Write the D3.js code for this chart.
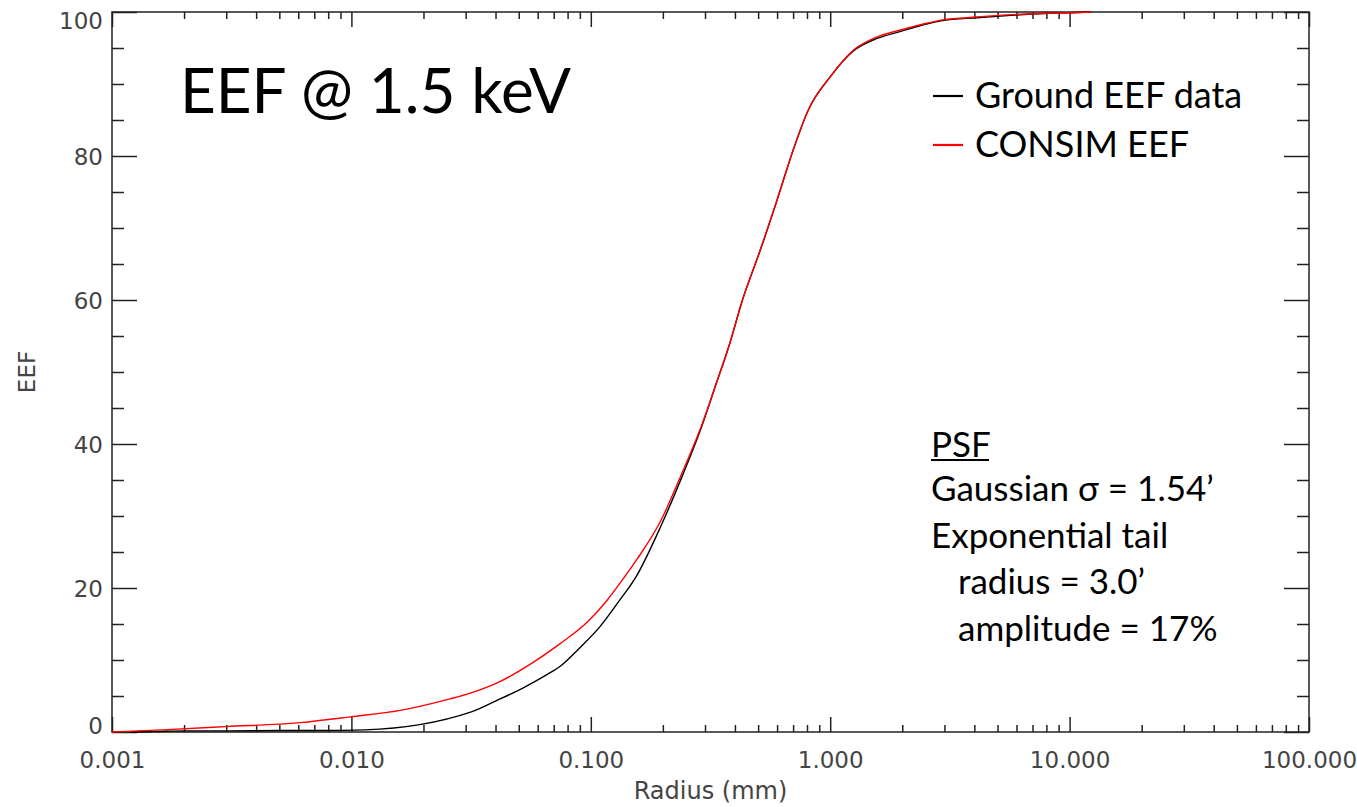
<!DOCTYPE html>
<html>
<head>
<meta charset="utf-8">
<script src="https://cdn.jsdelivr.net/npm/d3@7"></script>
<style>
  body { margin: 0; background: #fff; }
  svg { display: block; }
</style>
</head>
<body>
<div id="chart"></div>
<script>
// ground measurement (black)
const groundRadius = [0.0012, 0.0015, 0.002, 0.003, 0.005, 0.0075, 0.0114, 0.0317, 0.04, 0.052, 0.065, 0.075, 0.09, 0.109, 0.13, 0.156, 0.195, 0.24, 0.286, 0.335, 0.38, 0.43, 0.51, 0.6, 0.7, 0.81, 1.0, 1.25, 1.56, 1.97, 2.5, 2.95, 4.1, 5.5, 7.7, 10, 12.3];
const groundEEF = [0, 0.05, 0.15, 0.15, 0.2, 0.2, 0.3, 2.8, 4.3, 6.1, 7.9, 9.2, 11.7, 14.6, 18.0, 21.8, 28.4, 35.4, 41.8, 48.5, 53.9, 60, 66.9, 73.9, 80.8, 86.4, 91, 94.6, 96.3, 97.3, 98.3, 98.8, 99.2, 99.5, 99.8, 99.9, 100];

// CONSIM model (red)
const consimRadius = [0.001, 0.00163, 0.003, 0.0061, 0.0099, 0.016, 0.0258, 0.0314, 0.0417, 0.057, 0.074, 0.097, 0.117, 0.132, 0.156, 0.195, 0.24, 0.286, 0.335, 0.38, 0.43, 0.51, 0.6, 0.7, 0.81, 1.0, 1.25, 1.56, 1.97, 2.5, 2.95, 4.1, 5.5, 7.7, 10, 12.3];
const consimEEF = [0, 0.3, 0.75, 1.3, 2.1, 3.0, 4.6, 5.4, 7.0, 9.6, 12.2, 15.3, 18.3, 20.6, 24.0, 29.2, 35.9, 42, 48.5, 53.9, 60, 66.9, 73.9, 80.8, 86.4, 91, 94.7, 96.5, 97.5, 98.4, 98.9, 99.3, 99.6, 99.8, 99.9, 100];

const xTickValues = [0.001, 0.01, 0.1, 1, 10, 100];
const xTickLabels = ["0.001", "0.010", "0.100", "1.000", "10.000", "100.000"];
const yTickValues = [0, 20, 40, 60, 80, 100];

const legendLabels = ["Ground EEF data", "CONSIM EEF"];
const legendColors = ["#000000", "#ff0000"];
const psfLines = ["Gaussian \u03c3 = 1.54\u2019", "Exponential tail", "radius = 3.0\u2019", "amplitude = 17%"];

function buildChart() {
  const width = 1357;
  const height = 807;
  const margin = { top: 12, right: 48, bottom: 75, left: 112 };

  const svg = d3.create("svg")
    .attr("width", width)
    .attr("height", height)
    .attr("viewBox", [0, 0, width, height]);

  const x = d3.scaleLog()
    .domain([0.001, 100])
    .range([margin.left, width - margin.right]);

  const y = d3.scaleLinear()
    .domain([0, 100])
    .range([height - margin.bottom, margin.top]);

  const axisFont = "'DejaVu Sans', sans-serif";

  // minor ticks on a log axis: 2..9 inside each decade
  const xMinor = x.ticks().filter(d => !xTickValues.some(v => Math.abs(v - d) / v < 1e-6));
  const yMinor = y.ticks(20).filter(d => d % 20 !== 0);

  // bottom axis
  svg.append("g")
    .attr("transform", `translate(0,${y(0)})`)
    .call(d3.axisBottom(x).tickValues(xTickValues).tickSize(-15).tickPadding(20)
      .tickFormat((d, i) => xTickLabels[i]))
    .call(g => g.select(".domain").remove());
  svg.append("g")
    .attr("transform", `translate(0,${y(0)})`)
    .call(d3.axisBottom(x).tickValues(xMinor).tickSize(-7).tickFormat(""))
    .call(g => g.select(".domain").remove());

  // top axis (mirrored, no labels)
  svg.append("g")
    .attr("transform", `translate(0,${y(100)})`)
    .call(d3.axisTop(x).tickValues(xTickValues).tickSize(-15).tickFormat(""))
    .call(g => g.select(".domain").remove());
  svg.append("g")
    .attr("transform", `translate(0,${y(100)})`)
    .call(d3.axisTop(x).tickValues(xMinor).tickSize(-7).tickFormat(""))
    .call(g => g.select(".domain").remove());

  // left axis
  svg.append("g")
    .attr("transform", `translate(${x(0.001)},0)`)
    .call(d3.axisLeft(y).tickValues(yTickValues).tickSize(-25).tickPadding(9))
    .call(g => g.select(".domain").remove())
    // IDL keeps the end labels inside the frame
    .call(g => g.selectAll(".tick text")
      .attr("dy", d => d === 100 ? "0.72em" : d === 0 ? "0.05em" : "0.35em"));
  svg.append("g")
    .attr("transform", `translate(${x(0.001)},0)`)
    .call(d3.axisLeft(y).tickValues(yMinor).tickSize(-12).tickFormat(""))
    .call(g => g.select(".domain").remove());

  // right axis
  svg.append("g")
    .attr("transform", `translate(${x(100)},0)`)
    .call(d3.axisRight(y).tickValues(yTickValues).tickSize(-25).tickFormat(""))
    .call(g => g.select(".domain").remove());
  svg.append("g")
    .attr("transform", `translate(${x(100)},0)`)
    .call(d3.axisRight(y).tickValues(yMinor).tickSize(-12).tickFormat(""))
    .call(g => g.select(".domain").remove());

  svg.selectAll(".tick line")
    .attr("stroke", "#222")
    .attr("stroke-width", 1.5);
  svg.selectAll(".tick text")
    .attr("fill", "#444")
    .attr("font-family", axisFont)
    .attr("font-size", 23);

  // frame
  svg.append("rect")
    .attr("x", x(0.001))
    .attr("y", y(100))
    .attr("width", x(100) - x(0.001))
    .attr("height", y(0) - y(100))
    .attr("fill", "none")
    .attr("stroke", "#222")
    .attr("stroke-width", 1.5);

  // axis titles
  svg.append("text")
    .attr("x", (x(0.001) + x(100)) / 2)
    .attr("y", 799)
    .attr("text-anchor", "middle")
    .attr("fill", "#444")
    .attr("font-family", axisFont)
    .attr("font-size", 24)
    .text("Radius (mm)");

  svg.append("text")
    .attr("transform", `translate(35,${(y(0) + y(100)) / 2}) rotate(-90)`)
    .attr("text-anchor", "middle")
    .attr("fill", "#444")
    .attr("font-family", axisFont)
    .attr("font-size", 23)
    .text("EEF");

  // curves
  const line = d3.line()
    .curve(d3.curveMonotoneX)
    .x(d => x(d[0]))
    .y(d => y(d[1]));

  const series = [
    { values: d3.zip(groundRadius, groundEEF), color: legendColors[0] },
    { values: d3.zip(consimRadius, consimEEF), color: legendColors[1] }
  ];

  svg.append("g")
    .selectAll("path")
    .data(series)
    .join("path")
    .attr("fill", "none")
    .attr("stroke", d => d.color)
    .attr("stroke-width", 1.4)
    .attr("stroke-linejoin", "round")
    .attr("d", d => line(d.values));

  const labelFont = "Lato, 'Open Sans', sans-serif";

  // big title
  svg.append("text")
    .attr("x", 180)
    .attr("y", 113)
    .attr("fill", "#000")
    .attr("font-family", labelFont)
    .attr("font-size", 62)
    .text("EEF @ 1.5 keV");

  // legend
  const legend = svg.append("g")
    .attr("transform", "translate(933,96)");
  legend.selectAll("line")
    .data(legendColors)
    .join("line")
    .attr("x1", 0)
    .attr("x2", 30)
    .attr("y1", (d, i) => i * 49)
    .attr("y2", (d, i) => i * 49)
    .attr("stroke", d => d)
    .attr("stroke-width", 2.2);
  legend.selectAll("text")
    .data(legendLabels)
    .join("text")
    .attr("x", 42)
    .attr("y", (d, i) => i * 49 + 12)
    .attr("fill", "#000")
    .attr("font-family", labelFont)
    .attr("font-size", 36)
    .text(d => d);

  // PSF parameters box
  const psf = svg.append("g")
    .attr("transform", "translate(931,457)");
  psf.append("text")
    .attr("x", 0)
    .attr("y", 0)
    .attr("fill", "#000")
    .attr("font-family", labelFont)
    .attr("font-size", 35)
    .text("PSF");
  psf.append("line")
    .attr("x1", 0)
    .attr("x2", 58)
    .attr("y1", 3)
    .attr("y2", 3)
    .attr("stroke", "#000")
    .attr("stroke-width", 2);
  psf.selectAll(".psfLine")
    .data(psfLines)
    .join("text")
    .attr("class", "psfLine")
    .attr("x", (d, i) => i >= 2 ? 27 : 0)
    .attr("y", (d, i) => 44 + i * 46.5)
    .attr("fill", "#000")
    .attr("font-family", labelFont)
    .attr("font-size", 35)
    .text(d => d);

  document.querySelector("#chart").append(svg.node());
}

buildChart();
</script>
</body>
</html>
